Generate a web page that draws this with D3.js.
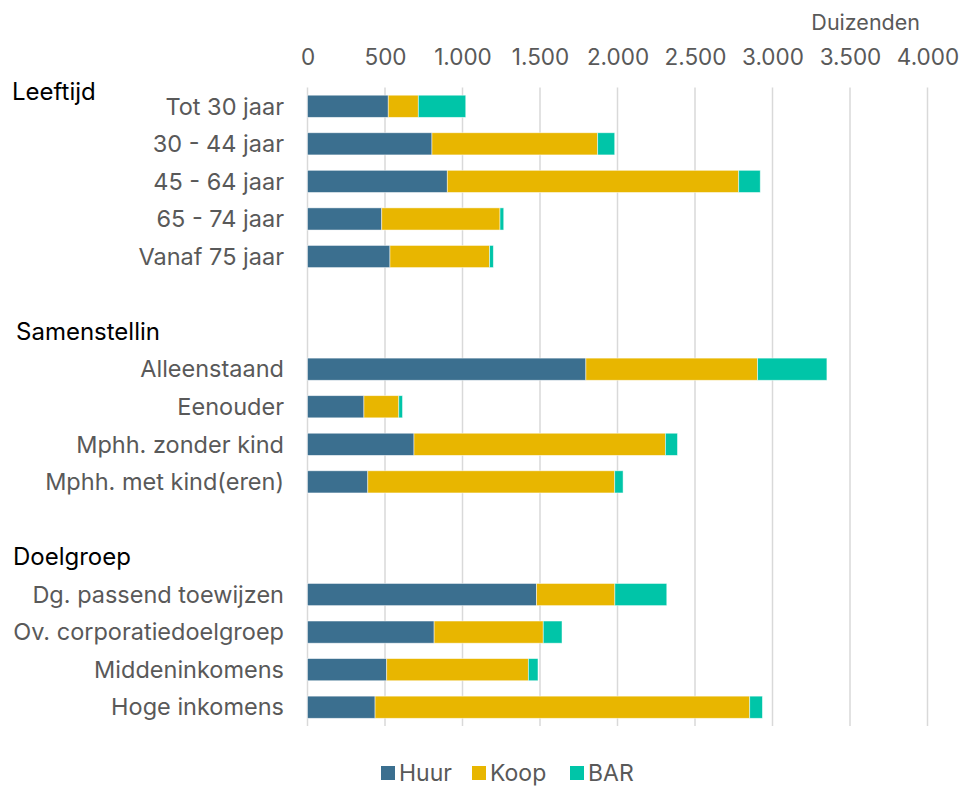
<!DOCTYPE html>
<html>
<head>
<meta charset="utf-8">
<script src="https://cdn.jsdelivr.net/npm/d3@7"></script>
<style>
  body { margin: 0; background: #fff; }
  svg { font-family: Inter, "Noto Sans", sans-serif; }
</style>
</head>
<body>
<svg id="chart" width="961" height="786"></svg>
<script>
/* rows of the chart, top to bottom; '' = empty slot, '#' = group header slot */
const rows = ['Tot 30 jaar', '30 - 44 jaar', '45 - 64 jaar', '65 - 74 jaar', 'Vanaf 75 jaar',
  '', '#Samenstellin',
  'Alleenstaand', 'Eenouder', 'Mphh. zonder kind', 'Mphh. met kind(eren)',
  '', '#Doelgroep',
  'Dg. passend toewijzen', 'Ov. corporatiedoelgroep', 'Middeninkomens', 'Hoge inkomens'];

const categories = ['Tot 30 jaar', '30 - 44 jaar', '45 - 64 jaar', '65 - 74 jaar', 'Vanaf 75 jaar',
  'Alleenstaand', 'Eenouder', 'Mphh. zonder kind', 'Mphh. met kind(eren)',
  'Dg. passend toewijzen', 'Ov. corporatiedoelgroep', 'Middeninkomens', 'Hoge inkomens'];
const huur = [521, 803, 902, 479, 532, 1796, 364, 687, 389, 1478, 817, 511, 436];
const koop = [194, 1069, 1880, 763, 643, 1108, 225, 1622, 1593, 505, 704, 914, 2417];
const bar  = [306, 110, 139, 24, 24, 447, 24, 78, 54, 335, 121, 62, 82];

const series = ['Huur', 'Koop', 'BAR'];
const colors = ['#3b6f8f', '#e8b600', '#00c5a8'];
const xTicks = [0, 500, 1000, 1500, 2000, 2500, 3000, 3500, 4000];

/* table built from the arrays above */
const table = categories.map((c, i) => ({ cat: c, Huur: huur[i], Koop: koop[i], BAR: bar[i] }));
const stacked = d3.stack().keys(series)(table);

const svg = d3.select('#chart');
const x = d3.scaleLinear().domain([0, 4000]).range([307.5, 927.5]);
const y = d3.scaleBand().domain(rows.map((r, i) => i)).range([87.5, 726]).paddingInner(0.41).paddingOuter(0.205);
const rowIndex = c => rows.indexOf(c);
const fmt = d3.formatLocale({ decimal: ',', thousands: '.', grouping: [3], currency: ['€', ''] }).format(',');

/* gridlines */
svg.append('g').selectAll('line').data(xTicks).join('line')
  .attr('x1', d => x(d)).attr('x2', d => x(d))
  .attr('y1', 87.5).attr('y2', 726)
  .attr('stroke', '#d9d9d9').attr('stroke-width', 1.5);

/* top axis labels */
const xAxis = d3.axisTop(x).tickValues(xTicks).tickFormat(fmt).tickSize(0).tickPadding(0);
const gx = svg.append('g').attr('transform', 'translate(0,65)').call(xAxis);
gx.select('.domain').remove();
gx.selectAll('text').attr('font-size', 22.5).attr('fill', '#595959').attr('font-family', 'Inter, sans-serif');

svg.append('text').attr('x', 920).attr('y', 30).attr('text-anchor', 'end')
  .attr('font-size', 21.5).attr('fill', '#595959').text('Duizenden');

/* bars */
svg.append('g').selectAll('g').data(stacked).join('g')
  .attr('fill', (d, i) => colors[i])
  .selectAll('rect').data(d => d).join('rect')
  .attr('x', d => x(d[0]))
  .attr('width', d => x(d[1]) - x(d[0]))
  .attr('y', d => y(rowIndex(d.data.cat)))
  .attr('height', y.bandwidth())
  .attr('stroke', 'rgba(255,255,255,0.6)').attr('stroke-width', 0.8);

/* category labels */
svg.append('g').selectAll('text').data(categories).join('text')
  .attr('x', 284)
  .attr('y', d => y(rowIndex(d)) + y.bandwidth() / 2)
  .attr('dy', '0.35em')
  .attr('text-anchor', 'end')
  .attr('font-size', 23.5).attr('fill', '#595959')
  .text(d => d);

/* group headers */
const headers = [
  { label: 'Leeftijd', x: 12, y: y(0) + y.bandwidth() / 2 - 15 },
  { label: 'Samenstellin', x: 16, y: y(rowIndex('#Samenstellin')) + y.bandwidth() / 2 },
  { label: 'Doelgroep', x: 13, y: y(rowIndex('#Doelgroep')) + y.bandwidth() / 2 }
];
svg.append('g').selectAll('text').data(headers).join('text')
  .attr('x', d => d.x).attr('y', d => d.y).attr('dy', '0.35em')
  .attr('font-size', 24).attr('fill', '#000')
  .text(d => d.label);

/* legend */
const legendX = [381, 472, 570];
const lg = svg.append('g').selectAll('g').data(series).join('g')
  .attr('transform', (d, i) => `translate(${legendX[i]},766)`);
lg.append('rect').attr('width', 14).attr('height', 14).attr('fill', (d, i) => colors[i]);
lg.append('text').attr('x', 18).attr('y', 7).attr('dy', '0.36em')
  .attr('font-size', 23).attr('fill', '#595959').text(d => d);
</script>
</body>
</html>
